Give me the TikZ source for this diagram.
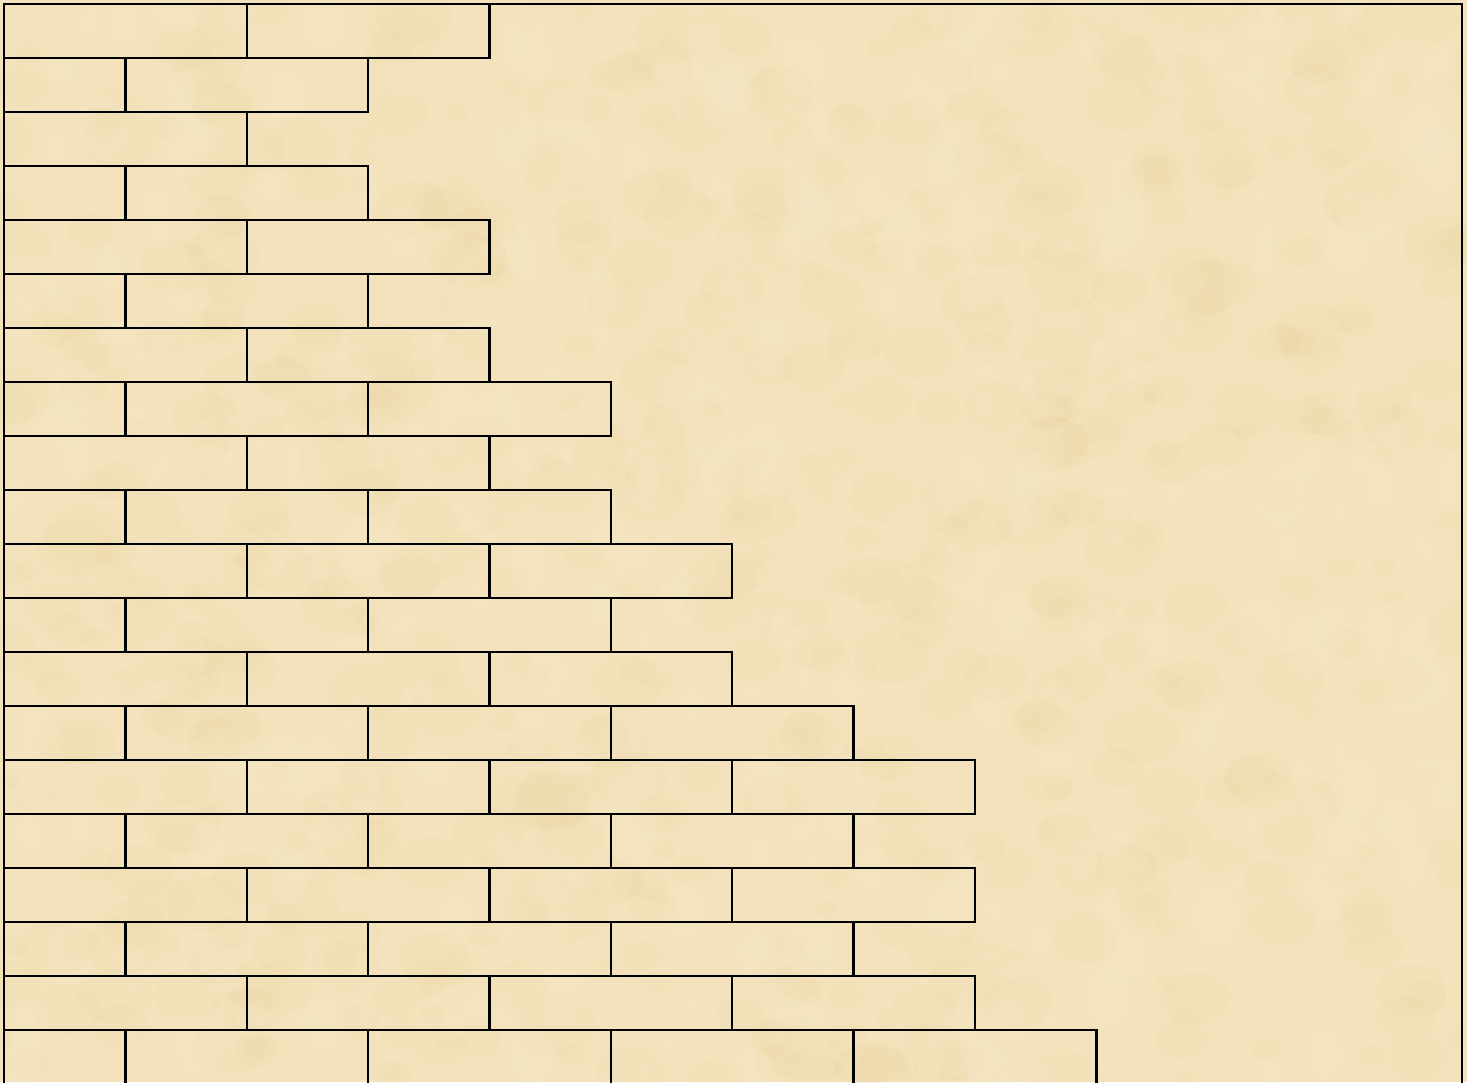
\documentclass[tikz,border=0pt]{standalone}
\usepackage{tikz}
\definecolor{parchment}{RGB}{243,226,188}
\definecolor{stain}{RGB}{224,192,130}
\definecolor{pale}{RGB}{252,242,216}

\begin{document}
\begin{tikzpicture}[x=0.02cm,y=-0.02cm,
    brick/.style={draw=black,line width=1.3pt},
    frame/.style={draw=black,line width=1.4pt},
    blot/.style={fill=stain,opacity=0.06},
    glow/.style={fill=pale,opacity=0.10}]
  \def\hb{121.375}
  % Page size and clipping
  \useasboundingbox (0,0) rectangle (1467,1082);
  \clip (0,0) rectangle (1467,1082);
  % Parchment background
  \fill[parchment] (0,0) rectangle (1467,1082);
  \pgfmathsetseed{7}
  \foreach \n in {1,...,600} {
    \pgfmathsetmacro{\bx}{1467*rnd}
    \pgfmathsetmacro{\by}{1082*rnd}
    \pgfmathsetmacro{\br}{8+22*rnd}
    \pgfmathsetmacro{\bw}{1.3*\br}
    \fill[blot] (\bx,\by) ellipse [x radius=\bw, y radius=\br];
  }
  \foreach \n in {1,...,400} {
    \pgfmathsetmacro{\bx}{1467*rnd}
    \pgfmathsetmacro{\by}{1082*rnd}
    \pgfmathsetmacro{\br}{6+20*rnd}
    \pgfmathsetmacro{\bw}{1.3*\br}
    \fill[glow] (\bx,\by) ellipse [x radius=\br, y radius=\bw];
  }
  % Outer frame
  \draw[frame] (4,1100) -- (4,4) -- (1462,4) -- (1462,1100);
  % Brick rows: row / length in half bricks
  \foreach \r/\k in {0/4,1/3,2/2,3/3,4/4,5/3,6/4,7/5,8/4,9/5,
                     10/6,11/5,12/6,13/7,14/8,15/7,16/8,17/7,18/8,19/9} {
    \draw[brick] (4,{4+54*\r}) rectangle ({4+\k*\hb},{58+54*\r});
    \foreach \j in {1,...,8} {
      \pgfmathtruncatemacro{\oddj}{mod(\j+\r,2)}
      \ifnum\j<\k
        \ifnum\oddj=0
          \draw[brick] ({4+\j*\hb},{4+54*\r}) -- ({4+\j*\hb},{58+54*\r});
        \fi
      \fi
    }
  }
\end{tikzpicture}
\end{document}
